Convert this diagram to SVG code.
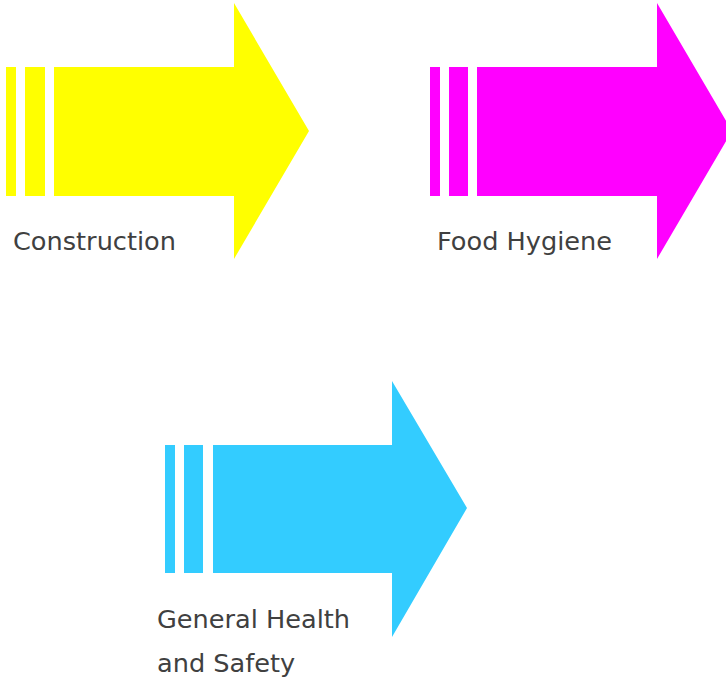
<svg xmlns="http://www.w3.org/2000/svg" width="726" height="679" viewBox="0 0 726 679">
<style>
.lbl{font-family:"DejaVu Sans","Liberation Sans",sans-serif;font-size:25.6px;fill:#404040}
</style>
<rect width="726" height="679" fill="#ffffff"/>
<g id="construction">
<rect x="6" y="67" width="10" height="129" fill="#ffff00"/>
<rect x="25" y="67" width="20" height="129" fill="#ffff00"/>
<polygon points="54,67 234,67 234,3 309,131 234,259 234,196 54,196" fill="#ffff00"/>
<text class="lbl" x="13" y="250">Construction</text>
</g>
<g id="food-hygiene">
<rect x="430" y="67" width="10" height="129" fill="#ff00ff"/>
<rect x="449" y="67" width="19" height="129" fill="#ff00ff"/>
<polygon points="477,67 657,67 657,3 732,131 657,259 657,196 477,196" fill="#ff00ff"/>
<text class="lbl" x="437" y="250">Food Hygiene</text>
</g>
<g id="general-health">
<rect x="165" y="445" width="10" height="128" fill="#33ccff"/>
<rect x="184" y="445" width="19" height="128" fill="#33ccff"/>
<polygon points="213,445 392,445 392,381 467,508 392,637 392,573 213,573" fill="#33ccff"/>
<text class="lbl" x="157" y="628">General Health</text>
<text class="lbl" x="157" y="672">and Safety</text>
</g>
<g id="connectors"></g>
</svg>
